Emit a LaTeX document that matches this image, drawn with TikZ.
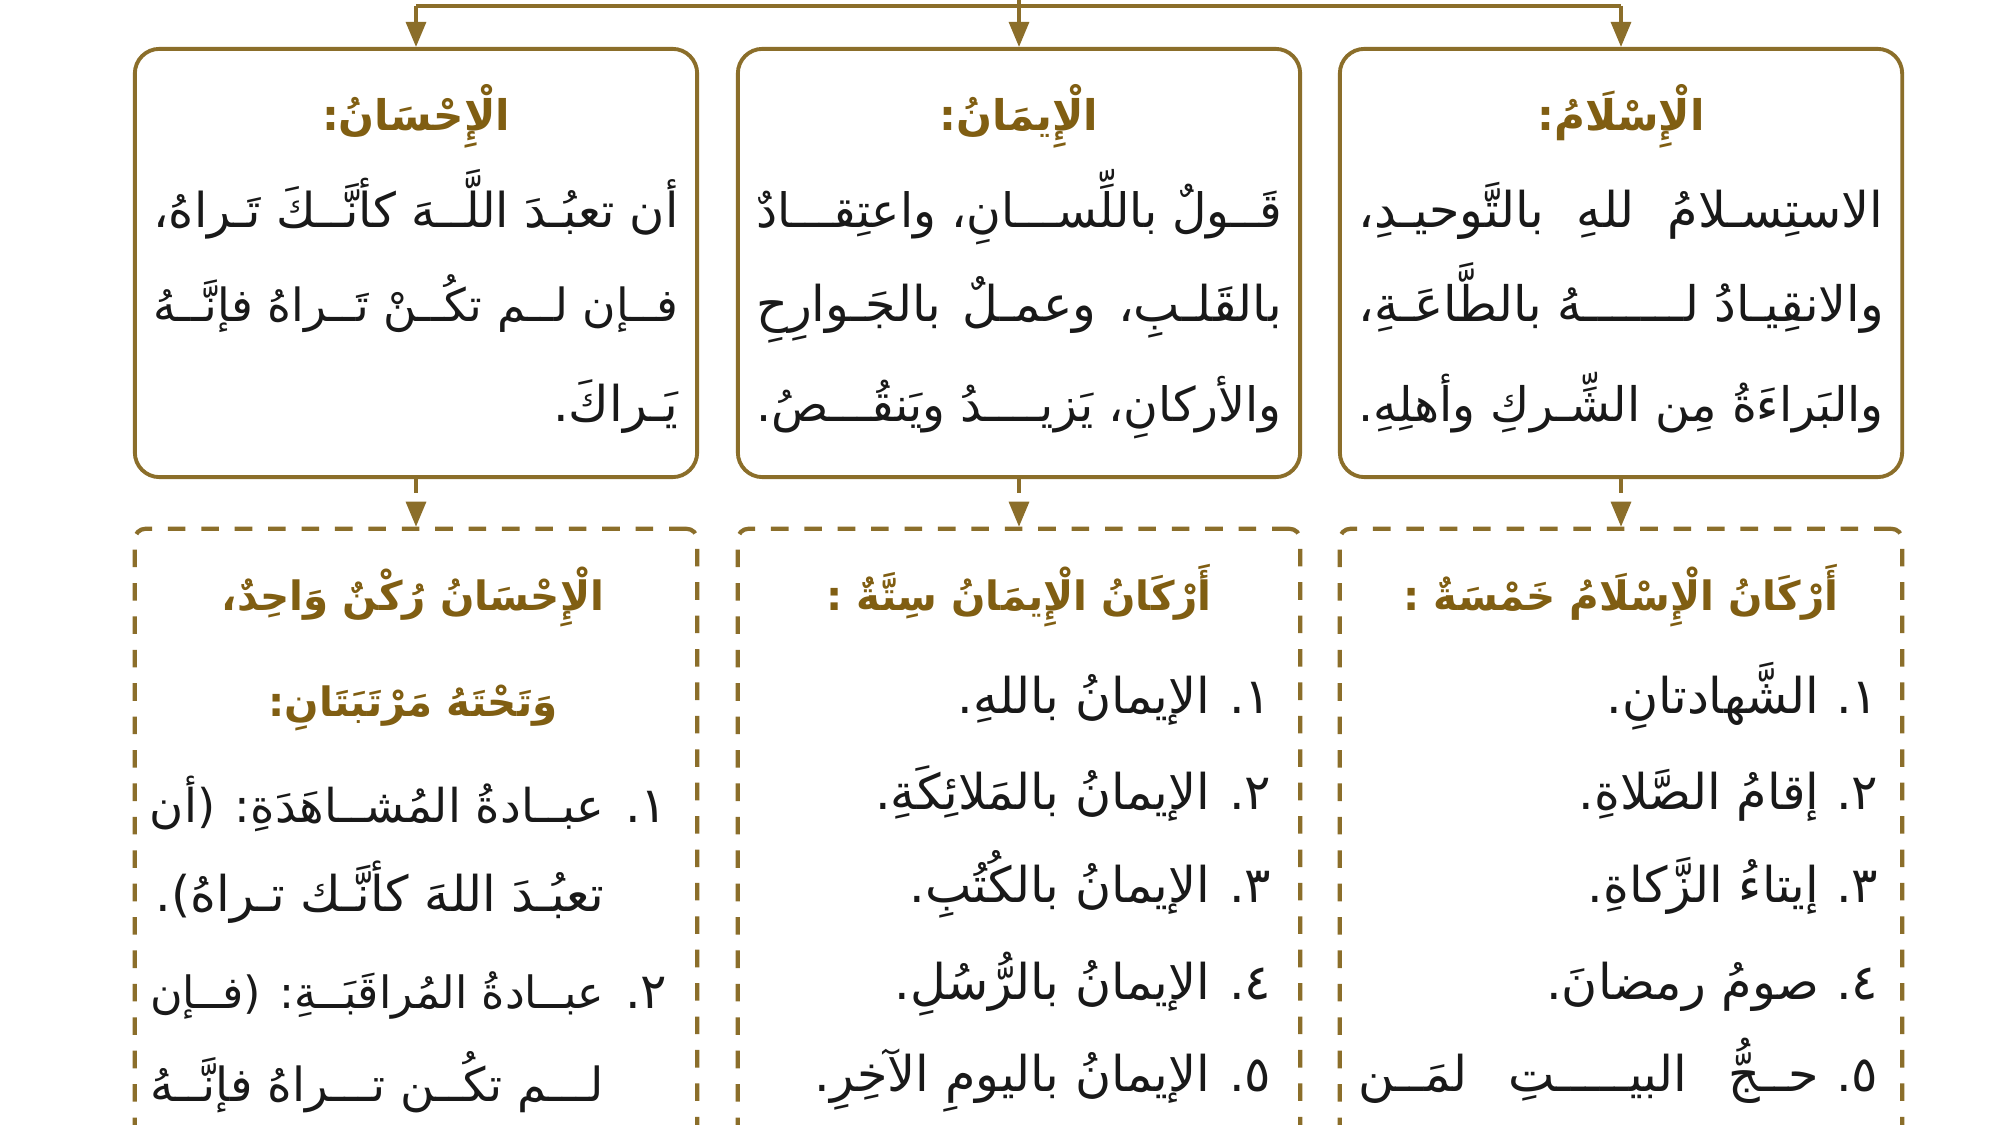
\documentclass[tikz,border=0pt]{standalone}
\usepackage{fontspec}
\usepackage{graphicx}
\usetikzlibrary{arrows.meta}
\TeXXeTstate=1
\newfontfamily\arabicfont[Script=Arabic]{DejaVu Sans}
\definecolor{frame}{RGB}{139,110,42}
\definecolor{headc}{RGB}{128,94,18}
\definecolor{ink}{RGB}{25,25,25}
\newsavebox\jbox
\newlength\jwid
% justified line: #1 width, #2 text (already wrapped in \beginR ... \endR)
\newcommand\jline[2]{%
  \setlength\jwid{#1}%
  \sbox\jbox{#2}%
  \ifdim\wd\jbox>\jwid
    \resizebox{\jwid}{!}{\usebox\jbox}%
  \else
    \hbox to \jwid{\spaceskip=0.3em plus 1fil #2}%
  \fi}
\tikzset{
  solidbox/.style={draw=frame, line width=1.1pt, rounded corners=7pt, fill=white,
    minimum width=5.62cm, minimum height=4.28cm, inner sep=0pt},
  dashbox/.style={draw=frame, line width=1.2pt, dash pattern=on 5pt off 4.5pt,
    rounded corners=3pt, minimum width=5.62cm, minimum height=6.71cm, inner sep=0pt},
  conn/.style={draw=frame, line width=0.9pt},
  arr/.style={conn, -{Triangle[length=0.25cm,width=0.2cm]}},
  darr/.style={arr, dash pattern=on 4pt off 3pt},
  head/.style={font=\arabicfont\bfseries\fontsize{12}{15}\selectfont, text=headc, inner sep=0pt},
  dhead/.style={font=\arabicfont\bfseries\fontsize{11.5}{14}\selectfont, text=headc, inner sep=0pt},
  body/.style={font=\arabicfont\fontsize{14}{17}\selectfont, text=ink, inner sep=0pt},
}
\begin{document}
\begin{tikzpicture}[x=0.01cm,y=-0.01cm]
\useasboundingbox[fill=white] (0,0) rectangle (2000,1125);
% boxes
\node[solidbox] (bI) at (1621,263) {};
\node[solidbox] (bM) at (1019,263) {};
\node[solidbox] (bH) at (416,263) {};
\node[dashbox] (dI) at (1621,864.5) {};
\node[dashbox] (dM) at (1019,864.5) {};
\node[dashbox] (dH) at (416,864.5) {};
% top connectors
\coordinate (hl) at (416,6);
\coordinate (hr) at (1621,6);
\coordinate (hc) at (1019,-5);
\draw[conn] (hl) -- (hr);
\draw[arr] (hl) -- (bH.north);
\draw[arr] (hr) -- (bI.north);
\draw[arr] (hc) -- (bM.north);
\draw[darr] (bI.south) -- (dI.north);
\draw[darr] (bM.south) -- (dM.north);
\draw[darr] (bH.south) -- (dH.north);
% Islam box
\node[head, anchor=base] (tI) at (1621,131) {\beginR الْإِسْلَامُ:\endR};
\node[body, anchor=base] (i1) at (1621,228) {\jline{5.25cm}{\beginR الاستِسـلامُ للهِ بالتَّوحيـدِ،\endR}};
\node[body, anchor=base] (i2) at (1621,322) {\jline{5.25cm}{\beginR والانقِيـادُ لـــــــهُ بالطَّاعَـةِ،\endR}};
\node[body, anchor=base] (i3) at (1621,422) {\jline{5.25cm}{\beginR والبَراءَةُ مِن الشِّـركِ وأهلِهِ.\endR}};
% Iman box
\node[head, anchor=base] (tM) at (1019,131) {\beginR الْإِيمَانُ:\endR};
\node[body, anchor=base] (m1) at (1019,228) {\jline{5.25cm}{\beginR قَــولٌ باللِّســـانِ، واعتِقـــادٌ\endR}};
\node[body, anchor=base] (m2) at (1019,322) {\jline{5.25cm}{\beginR بالقَلـبِ، وعمـلٌ بالجَـوارِحِ\endR}};
\node[body, anchor=base] (m3) at (1019,422) {\jline{5.25cm}{\beginR والأركانِ، يَزيــــدُ ويَنقُـــصُ.\endR}};
% Ihsan box
\node[head, anchor=base] (tH) at (416,131) {\beginR الْإِحْسَانُ:\endR};
\node[body, anchor=base] (h1) at (416,228) {\jline{5.25cm}{\beginR أن تعبُـدَ اللَّــهَ كأنَّــكَ تَـراهُ،\endR}};
\node[body, anchor=base] (h2) at (416,322) {\jline{5.25cm}{\beginR فــإن لــم تكُــنْ تَــراهُ فإنَّــهُ\endR}};
\node[body, anchor=base east] (h3) at (679,422) {\beginR يَـراكَ.\endR};
% Islam pillars
\node[dhead, anchor=base] (dtI) at (1621,611) {\beginR أَرْكَانُ الْإِسْلَامُ خَمْسَةٌ :\endR};
\node[body, anchor=base east] (in1) at (1879,713) {\beginR ١.\endR};
\node[body, anchor=base east] (it1) at (1820,713) {\beginR الشَّهادتانِ.\endR};
\node[body, anchor=base east] (in2) at (1879,809) {\beginR ٢.\endR};
\node[body, anchor=base east] (it2) at (1820,809) {\beginR إقامُ الصَّلاةِ.\endR};
\node[body, anchor=base east] (in3) at (1879,902) {\beginR ٣.\endR};
\node[body, anchor=base east] (it3) at (1820,902) {\beginR إيتاءُ الزَّكاةِ.\endR};
\node[body, anchor=base east] (in4) at (1879,999) {\beginR ٤.\endR};
\node[body, anchor=base east] (it4) at (1820,999) {\beginR صومُ رمضانَ.\endR};
\node[body, anchor=base east] (in5) at (1879,1091) {\beginR ٥.\endR};
\node[body, anchor=base east] (it5) at (1820,1091) {\jline{4.61cm}{\beginR حــجُّ البيـــــتِ لمَــن\endR}};
% Iman pillars
\node[dhead, anchor=base] (dtM) at (1019,611) {\beginR أَرْكَانُ الْإِيمَانُ سِتَّةٌ :\endR};
\node[body, anchor=base east] (mn1) at (1272,713) {\beginR ١.\endR};
\node[body, anchor=base east] (mt1) at (1211,713) {\beginR الإيمانُ باللهِ.\endR};
\node[body, anchor=base east] (mn2) at (1272,809) {\beginR ٢.\endR};
\node[body, anchor=base east] (mt2) at (1211,809) {\beginR الإيمانُ بالمَلائِكَةِ.\endR};
\node[body, anchor=base east] (mn3) at (1272,902) {\beginR ٣.\endR};
\node[body, anchor=base east] (mt3) at (1211,902) {\beginR الإيمانُ بالكُتُبِ.\endR};
\node[body, anchor=base east] (mn4) at (1272,999) {\beginR ٤.\endR};
\node[body, anchor=base east] (mt4) at (1211,999) {\beginR الإيمانُ بالرُّسُلِ.\endR};
\node[body, anchor=base east] (mn5) at (1272,1091) {\beginR ٥.\endR};
\node[body, anchor=base east] (mt5) at (1211,1091) {\beginR الإيمانُ باليومِ الآخِرِ.\endR};
% Ihsan rank
\node[dhead, anchor=base] (dtH1) at (413,611) {\beginR الْإِحْسَانُ رُكْنٌ وَاحِدٌ،\endR};
\node[dhead, anchor=base] (dtH2) at (413,717) {\beginR وَتَحْتَهُ مَرْتَبَتَانِ:\endR};
\node[body, anchor=base east] (hn1) at (668,822) {\beginR ١.\endR};
\node[body, anchor=base east] (ht1) at (605,822) {\jline{4.54cm}{\beginR عبــادةُ المُشــاهَدَةِ: (أن\endR}};
\node[body, anchor=base east] (ht2) at (605,911) {\beginR تعبُـدَ اللهَ كأنَّـك تـراهُ).\endR};
\node[body, anchor=base east] (hn2) at (668,1008) {\beginR ٢.\endR};
\node[body, anchor=base east] (ht3) at (605,1008) {\jline{4.54cm}{\beginR عبــادةُ المُراقَبَــةِ: (فــإن\endR}};
\node[body, anchor=base east] (ht4) at (605,1101) {\jline{4.54cm}{\beginR لـــم تكُــن تـــراهُ فإنَّــهُ\endR}};
\end{tikzpicture}
\end{document}
